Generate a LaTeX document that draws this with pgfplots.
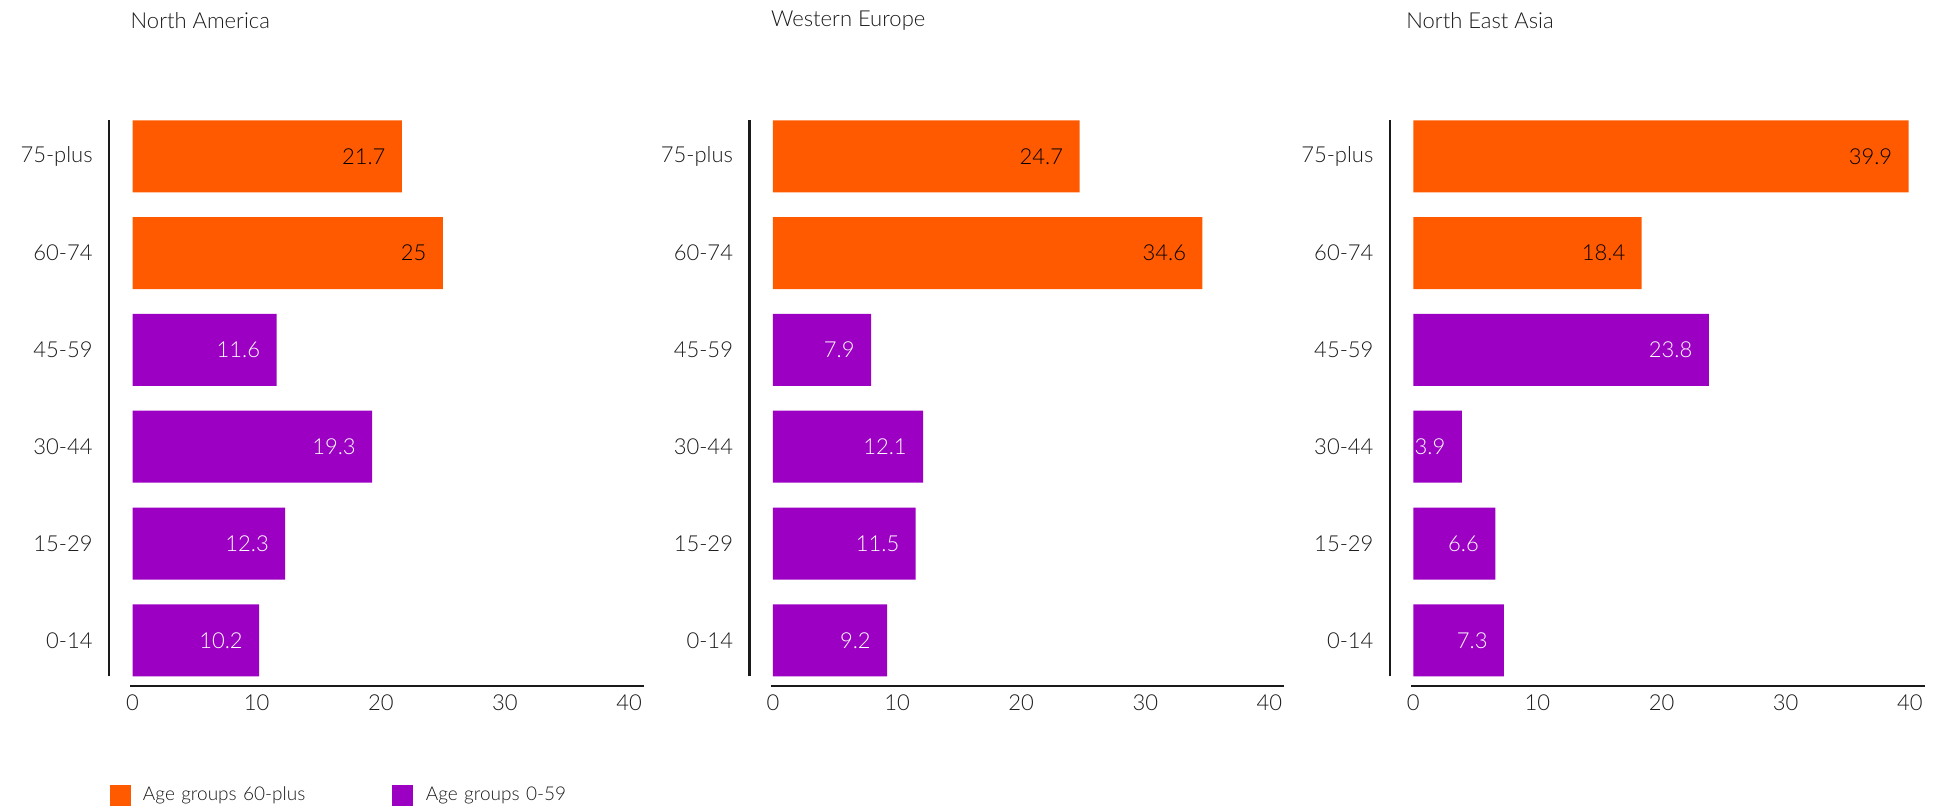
\documentclass[border=0pt]{standalone}
\usepackage{fontspec}
\setmainfont{Lato}[UprightFont={* Light}]
\usepackage{pgfplots}
\pgfplotsset{compat=1.18}

\definecolor{ageold}{HTML}{FF5A00}
\definecolor{ageyoung}{HTML}{9B00C3}
\definecolor{inktext}{HTML}{1A1A1A}

\newcommand{\chartfont}{\fontsize{11}{13}\selectfont}

\pgfplotsset{
  panel/.style={
    scale only axis, width=256.8pt, height=284.35pt,
    anchor=south west,
    xmin=-0.18, xmax=41.2, ymin=-0.475, ymax=5.4,
    xtick={0,10,20,30,40}, ytick={0,...,5},
    yticklabels={0-14,15-29,30-44,45-59,60-74,75-plus},
    axis x line*=bottom, axis y line*=left,
    y axis line style={draw=none},
    x axis line style={line width=1.2pt, inktext, -},
    major tick length=0pt, tick style={draw=none},
    xticklabel style={anchor=north, inner sep=0pt, yshift=-4pt},
    yticklabel style={anchor=east, inner sep=0pt, xshift=-18.65pt},
    ticklabel style={font=\chartfont, text=inktext},
    /pgf/number format/assume math mode=true,
    xbar, bar width=36pt, bar shift=0pt,
    nodes near coords, point meta=x,
    clip=false,
  },
  old/.style={fill=ageold, draw=none,
    nodes near coords style={anchor=east, inner sep=0pt, xshift=-8pt, font=\chartfont, text=black}},
  young/.style={fill=ageyoung, draw=none,
    nodes near coords style={anchor=east, inner sep=0pt, xshift=-8pt, font=\chartfont, text=white}},
}

\begin{document}
\begin{tikzpicture}
\path[use as bounding box] (0,0) rectangle (973pt,406pt);

% North America
\begin{axis}[panel, at={(65.15pt,62.85pt)},
  legend columns=2,
  legend image code/.code={\fill[#1] (0pt,-5.25pt) rectangle (10.5pt,5.25pt);},
  legend style={at={(-0.0411,-0.192)}, anchor=west, draw=none, fill=none, inner sep=0pt,
    nodes={inner sep=0pt, text width=118pt, font=\fontsize{9.5}{11}\selectfont, text=inktext},
    /tikz/every odd column/.append style={column sep=6.2pt},
    /tikz/every even column/.append style={column sep=6.75pt}}]
\addplot[old] coordinates {(21.7,5) (25,4)};
\addlegendentry{Age groups 60-plus}
\addplot[young] coordinates {(11.6,3) (19.3,2) (12.3,1) (10.2,0)};
\addlegendentry{Age groups 0-59}
\draw[line width=1.2pt, inktext] (axis cs:-1.88,-0.372) -- (axis cs:-1.88,5.372);
\end{axis}

% Western Europe
\begin{axis}[panel, at={(385.35pt,62.85pt)}]
\addplot[old] coordinates {(24.7,5) (34.6,4)};
\addplot[young] coordinates {(7.9,3) (12.1,2) (11.5,1) (9.2,0)};
\draw[line width=1.2pt, inktext] (axis cs:-1.88,-0.372) -- (axis cs:-1.88,5.372);
\end{axis}

% North East Asia
\begin{axis}[panel, at={(705.55pt,62.85pt)}]
\addplot[old] coordinates {(39.9,5) (18.4,4)};
\addplot[young] coordinates {(23.8,3) (3.9,2) (6.6,1) (7.3,0)};
\draw[line width=1.2pt, inktext] (axis cs:-1.88,-0.372) -- (axis cs:-1.88,5.372);
\end{axis}

\node[anchor=west, inner sep=0pt, font=\chartfont, text=inktext] at (65.15pt,395.5pt) {North America};
\node[anchor=west, inner sep=0pt, font=\chartfont, text=inktext] at (385.35pt,395.5pt) {Western Europe};
\node[anchor=west, inner sep=0pt, font=\chartfont, text=inktext] at (703pt,395.5pt) {North East Asia};
\end{tikzpicture}
\end{document}
